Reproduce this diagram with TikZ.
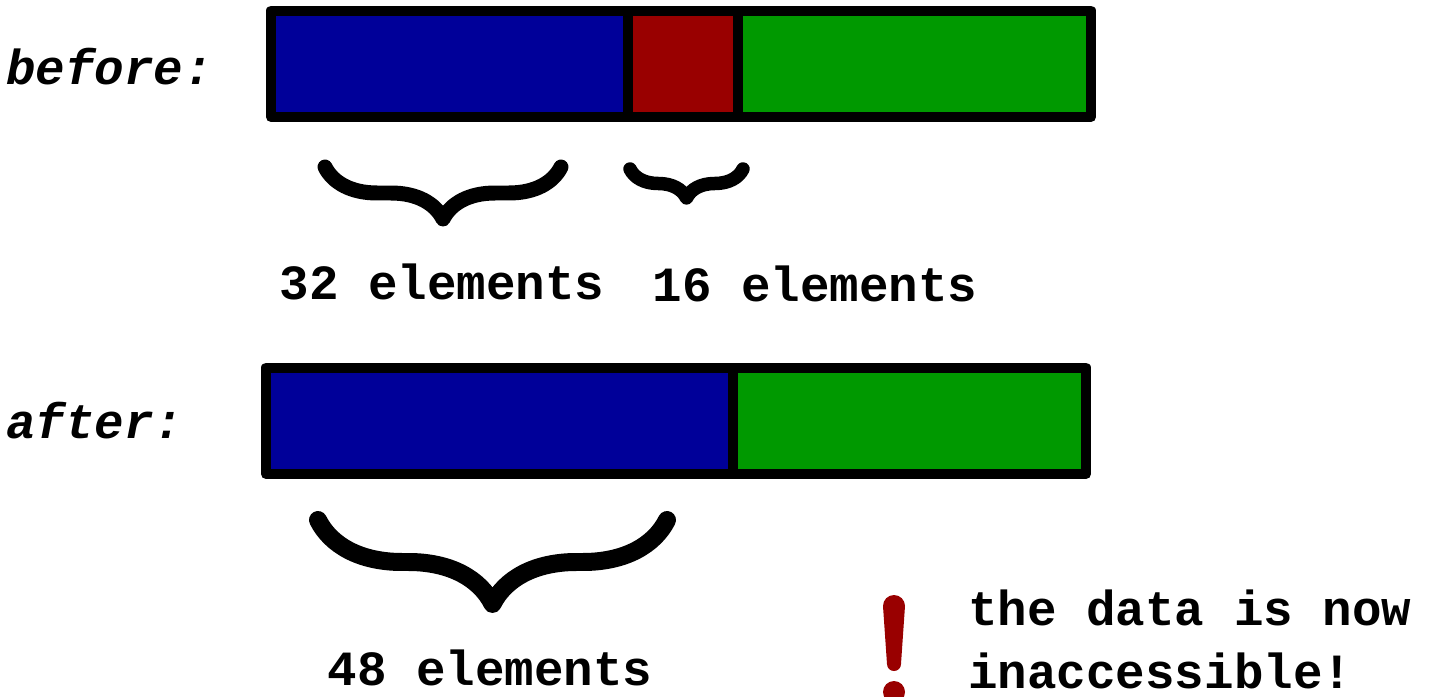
\documentclass[tikz,border=0pt]{standalone}
\usepackage{fontspec}
\setmonofont{Liberation Mono}
\usetikzlibrary{decorations.pathreplacing}
\definecolor{bblue}{RGB}{0,0,153}
\definecolor{bred}{RGB}{153,0,0}
\definecolor{bgreen}{RGB}{0,153,0}
\tikzset{
  seg/.style={draw=black, line width=0.2cm},
  lbl/.style={inner sep=0pt, anchor=base},
  curly/.style={decorate, decoration={brace, mirror, amplitude=#1}, line cap=round, line join=round},
}
\begin{document}
\begin{tikzpicture}[font=\ttfamily\bfseries\fontsize{28}{36}\selectfont, line join=round, x=0.02cm, y=-0.02cm]
    \useasboundingbox (0,0) rectangle (1438,697);
    \def\ta{10.5} \def\tb{117} \def\ba{367.5} \def\bb{474}
    % before
    \foreach \xa/\xb/\col in {271/628/bblue, 628/738/bred, 738/1091/bgreen}
      \draw[seg, fill=\col] (\xa,\ta) rectangle (\xb,\tb);
    \node[lbl, anchor=base west] (before) at (6,84) {\textit{before:}};
    \draw[curly=1.04cm, line width=0.3cm] (325,167) -- (561,167);
    \draw[curly=0.58cm, line width=0.27cm] (630,169) -- (743,169);
    \node[lbl] (n32) at (442,299) {32 elements};
    \node[lbl] (n16) at (815,301) {16 elements};
    % after
    \foreach \xa/\xb/\col in {266/733/bblue, 733/1086/bgreen}
      \draw[seg, fill=\col] (\xa,\ba) rectangle (\xb,\bb);
    \node[lbl, anchor=base west] (after) at (6,438) {\textit{after:}};
    \draw[curly=1.68cm, line width=0.36cm] (318,520) -- (667,520);
    \node[lbl] (n48) at (490,685) {48 elements};
    % warning
    \fill[bred] (883,606) arc (180:360:11) -- (901,664) arc (0:180:7) -- cycle;
    \fill[bred] (894,692) circle (11);
    \node[lbl, anchor=base west] (note1) at (968,625) {the data is now};
    \node[lbl, anchor=base west] (note2) at (968,688) {inaccessible!};
\end{tikzpicture}
\end{document}
